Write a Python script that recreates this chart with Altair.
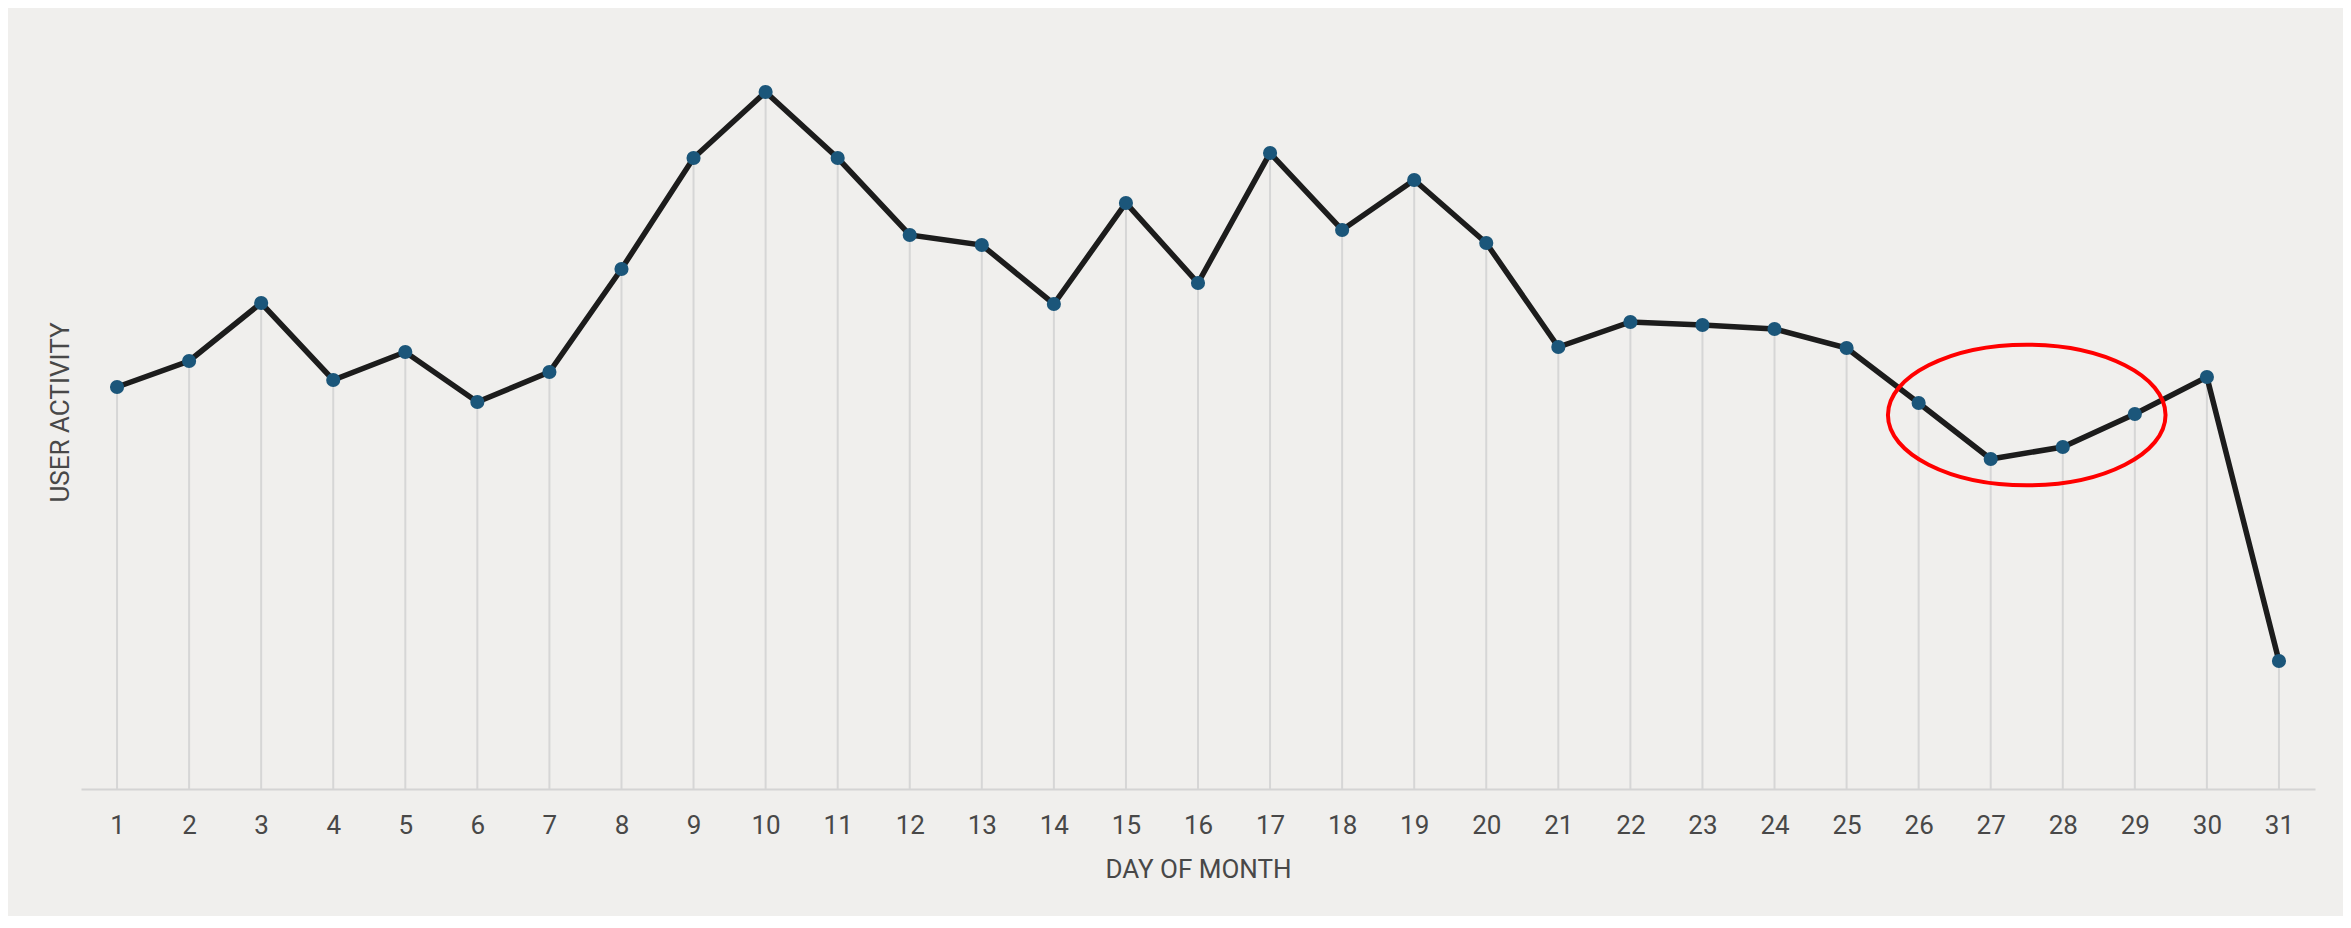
import altair as alt
import pandas as pd

# ---- data ----
days = list(range(1, 32))
activity = [402, 428, 486, 409, 437, 387, 417, 520, 631, 697, 631, 554, 544, 485,
            586, 506, 636, 559, 609, 546, 442, 467, 464, 460, 441, 386, 330, 342,
            375, 412, 128]
tick_days = list(range(1, 32))
highlight_day = [27.5]
highlight_level = [374]

df = pd.DataFrame({"day": days, "activity": activity})
hl = pd.DataFrame({"day": highlight_day, "activity": highlight_level})

FONT = "Roboto"
TXT = "#484848"

x_scale = alt.Scale(domain=[0.5, 31.5], nice=False, zero=False)
y_scale = alt.Scale(domain=[0, 754], nice=False, zero=True)

x_axis = alt.Axis(values=tick_days, format="d", grid=False, ticks=False,
                  domain=True, domainColor="#d4d4d4", domainWidth=2,
                  labelFont=FONT, labelFontSize=26, labelColor=TXT,
                  labelPadding=23, labelFlush=False,
                  titleFont=FONT, titleFontSize=26, titleFontWeight="normal",
                  titleColor=TXT, titlePadding=18)
y_axis = alt.Axis(labels=False, ticks=False, domain=False, grid=False,
                  titleFont=FONT, titleFontSize=26, titleFontWeight="normal",
                  titleColor=TXT, titlePadding=8)

X = alt.X("day:Q", scale=x_scale, axis=x_axis, title="DAY OF MONTH")
Y = alt.Y("activity:Q", scale=y_scale, axis=y_axis, title="USER ACTIVITY")

base = alt.Chart(df)
rules = base.mark_rule(color="#d6d6d6", strokeWidth=2).encode(x=X, y=Y, y2=alt.datum(0))
line = base.mark_line(color="#1c1c1c", strokeWidth=5.5).encode(x=X, y=Y)
points = base.mark_circle(color="#1b567a", size=200, opacity=1).encode(x=X, y=Y)
ellipse = alt.Chart(hl).mark_point(
    shape="M-1,0A1,0.5065,0,1,0,1,0A1,0.5065,0,1,0,-1,0Z",
    size=77063, filled=False, color="#ff0000", strokeWidth=4, opacity=1
).encode(x=X, y=Y)

chart = alt.layer(rules, line, points, ellipse).properties(
    width=2234, height=754, background="#f0efed",
    padding={"left": 73, "top": 27, "right": 28, "bottom": 127},
    autosize=alt.AutoSizeParams(type="none"),
).configure_view(stroke=None)

chart.save("out.html", embed_options={"renderer": "svg", "actions": False})
